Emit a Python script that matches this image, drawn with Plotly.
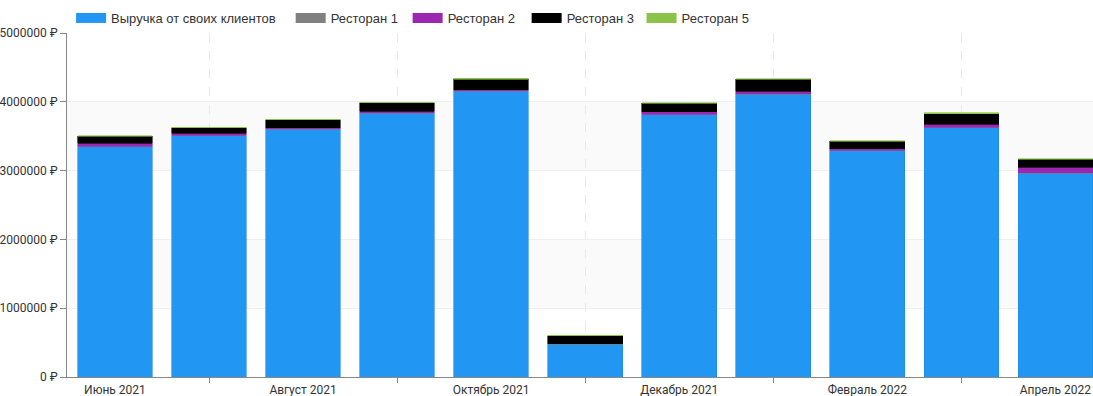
import plotly.graph_objects as go

months = ["Июнь 2021", "Июль 2021", "Август 2021", "Сентябрь 2021", "Октябрь 2021",
          "Ноябрь 2021", "Декабрь 2021", "Январь 2022", "Февраль 2022", "Март 2022", "Апрель 2022"]
own_clients = [3353000, 3512000, 3604000, 3836000, 4155000, 479000, 3813000, 4112000, 3295000, 3628000, 2965000]
rest1 = [3000, 3000, 3000, 3000, 3000, 1000, 3000, 3000, 3000, 3000, 3000]
rest2 = [39000, 25000, 18000, 24000, 19000, 2000, 38000, 39000, 19000, 44000, 78000]
rest3 = [102000, 81000, 116000, 121000, 154000, 121000, 122000, 174000, 107000, 155000, 116000]
rest5 = [10000, 10000, 7000, 10000, 10000, 1000, 8000, 5000, 10000, 10000, 10000]

series_names = ["Выручка от своих клиентов", "Ресторан 1", "Ресторан 2", "Ресторан 3", "Ресторан 5"]
series_values = [own_clients, rest1, rest2, rest3, rest5]
series_colors = ["#2196F3", "#808080", "#9C27B0", "#000000", "#8BC34A"]
line_colors = ["#1E88E5", "#808080", "#9C27B0", "#000000", "#8BC34A"]

y_ticks = [0, 1000000, 2000000, 3000000, 4000000, 5000000]
y_ticktext = [f"{v} ₽" for v in y_ticks]
bands = [(1000000, 2000000), (3000000, 4000000)]

# layout: horizontal position (paper fraction) of each legend entry
legend_x = [0.004, 0.218, 0.332, 0.448, 0.560]

x = list(range(len(months)))

fig = go.Figure()
for name, vals, col, lc in zip(series_names, series_values, series_colors, line_colors):
    fig.add_trace(go.Bar(
        x=x, y=vals, name=name, legendgroup=name, showlegend=False,
        marker=dict(color=col, line=dict(color=lc, width=0.6)),
        customdata=months,
        hovertemplate="%{customdata}<br>" + name + ": %{y} ₽<extra></extra>",
    ))

legend_keys = ["legend"] + [f"legend{i}" for i in range(2, len(series_names) + 1)]
# legend entries (wide rectangular swatches), tied to the bar series by legendgroup
for name, col, key in zip(series_names, series_colors, legend_keys):
    fig.add_trace(go.Scatter(
        x=[None], y=[None], mode="lines", name=name, legendgroup=name, legend=key,
        line=dict(color=col, width=11), hoverinfo="skip",
    ))

for y0, y1 in bands:
    fig.add_shape(type="rect", xref="paper", yref="y", x0=0, x1=1, y0=y0, y1=y1,
                  fillcolor="#FAFAFA", line=dict(width=0), layer="below")

legend_style = dict(
    orientation="h", xanchor="left", y=1.0, yanchor="bottom",
    font=dict(family="Liberation Sans, Arial, sans-serif", size=13, color="#333333"),
    itemclick=False, itemdoubleclick=False, bgcolor="rgba(0,0,0,0)",
)
legends = {key: dict(legend_style, x=lx) for key, lx in zip(legend_keys, legend_x)}

fig.update_layout(
    barmode="stack",
    bargap=0.206,
    width=1093, height=396,
    margin=dict(l=67, r=0, t=33, b=19, autoexpand=False),
    paper_bgcolor="white",
    plot_bgcolor="white",
    font=dict(family="Roboto, Arial, sans-serif", size=12, color="#333333"),
    showlegend=True,
    xaxis=dict(
        range=[-0.51, 10.40],
        tickmode="array", tickvals=x[::2], ticktext=months[::2],
        ticks="", showgrid=False, zeroline=False, automargin=False,
        showline=True, linecolor="#888888", linewidth=1,
        tickfont=dict(size=12, color="#333333"),
        ticklabelstandoff=2,
        minor=dict(tickmode="array", tickvals=x[1::2], ticks="outside", ticklen=5,
                   tickcolor="#888888", showgrid=True, gridcolor="#E8E8E8",
                   griddash="dash", gridwidth=1),
    ),
    yaxis=dict(
        range=[0, 5000000],
        tickmode="array", tickvals=y_ticks, ticktext=y_ticktext,
        ticks="outside", ticklen=6, tickcolor="#888888", automargin=False,
        showgrid=True, gridcolor="#EFEFEF", gridwidth=1, zeroline=False,
        showline=True, linecolor="#888888", linewidth=1,
        tickfont=dict(size=12, color="#333333"),
    ),
    **legends,
)

fig.write_html("out.html", config={"displayModeBar": False},
               post_script="document.body.style.margin='0';document.body.style.overflow='hidden';")
